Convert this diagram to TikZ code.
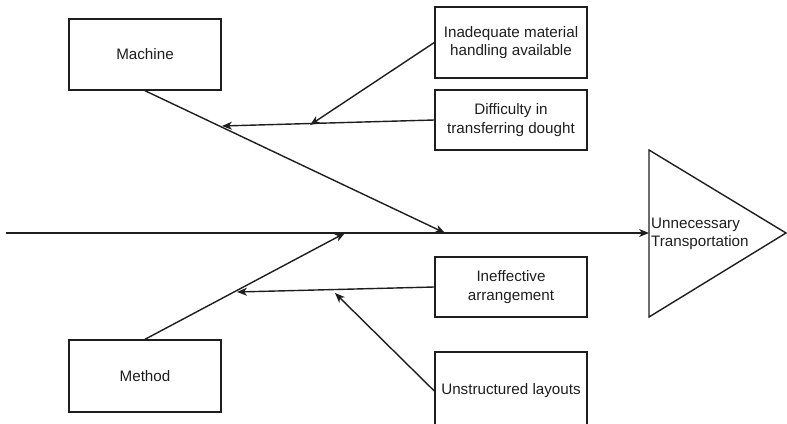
\documentclass[tikz,border=0pt]{standalone}
\usepackage{fontspec}
\setmainfont{Liberation Sans}
\usetikzlibrary{arrows.meta}
\definecolor{ink}{HTML}{1E1E1E}
\tikzset{
  box/.style={draw=ink, line width=1.4pt, minimum width=152pt, align=center,
    font=\fontsize{15.2}{18.5}\selectfont, text=ink, inner sep=0pt},
  conn/.style={draw=ink, line width=1.4pt, -{Stealth[length=10pt,width=8pt,inset=3pt]}},
}
\begin{document}
\begin{tikzpicture}[x=1pt,y=-1pt]
\useasboundingbox (0,0) rectangle (787,423);
% boxes
\node[box, minimum height=71pt] (mach) at (145,54.5) {Machine};
\node[box, minimum height=72pt] (meth) at (145,376) {Method};
\node[box, minimum height=71pt] (inad) at (511,42.5) {Inadequate material\\handling available};
\node[box, minimum height=60pt] (diff) at (511,120) {Difficulty in\\transferring dought};
\node[box, minimum height=60pt] (inef) at (511,287) {Ineffective\\arrangement};
\node[box, minimum height=78pt] (unst) at (511,391) {\raisebox{3pt}{Unstructured layouts}};
% effect triangle
\coordinate (tl) at (649,150);
\coordinate (tb) at (649,317);
\coordinate (ta) at (786,233);
\coordinate (tri) at (649,233);
\draw[draw=ink, line width=1.4pt, line join=miter] (tl) -- (ta) -- (tb) -- cycle;
\node[anchor=west, align=left, font=\fontsize{15.2}{17.5}\selectfont, text=ink, inner sep=0pt] (eff) at (651,234) {Unnecessary\\Transportation};
% junction points
\coordinate (start) at (6,233);
\coordinate (mj) at (445,233);
\coordinate (tj) at (345,233);
\coordinate (mb) at (222,126);
\coordinate (mb2) at (310,125);
\coordinate (tb1) at (237,292);
\coordinate (tb2) at (335,293);
% connectors
\draw[conn] (start) -- (tri);
\draw[conn] (mach.south) -- (mj);
\draw[conn] (meth.north) -- (tj);
\draw[conn] (diff.west) -- (mb);
\draw[conn] (inad.west) -- (mb2);
\draw[conn] (inef.west) -- (tb1);
\draw[conn] (unst.west) -- (tb2);
\end{tikzpicture}
\end{document}
